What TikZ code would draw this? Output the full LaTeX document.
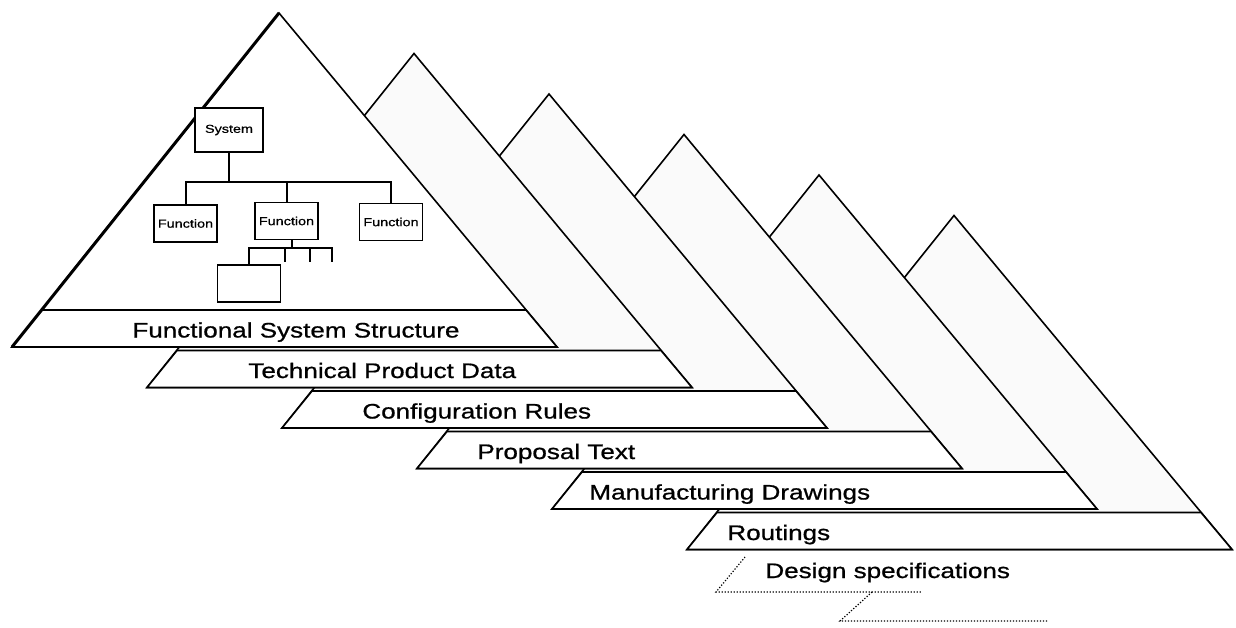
\documentclass[tikz,border=0pt]{standalone}
\usepackage{fontspec}
\setmainfont[FakeStretch=1.24, FakeBold=0.8]{Liberation Sans}

\tikzset{
  layer/.style={fill=black!2, line width=0.8pt, line join=miter},
  strip/.style={fill=white, line width=0.8pt},
  lbl/.style={font=\fontsize{10.5}{12}\selectfont, inner sep=0pt, anchor=base west},
  box/.style={draw, line width=0.9pt, fill=white, inner sep=0pt,
    minimum width=31.5pt, minimum height=18.5pt, font=\fontsize{5.8}{7}\selectfont},
  ghost/.style={line width=0.6pt, dash pattern=on 0.6pt off 0.9pt}
}

\begin{document}
\begin{tikzpicture}[x=0.5pt, y=-0.5pt]
\useasboundingbox (0,0) rectangle (1236,627);

% layers behind, drawn back to front
\foreach \k/\lbl/\off in {5/Routings/40, 4/Manufacturing Drawings/37,
    3/Proposal Text/60, 2/Configuration Rules/80, 1/Technical Product Data/101}{
  \begin{scope}[shift={(135*\k,40.5*\k)}]
    \filldraw[layer] (279,13) -- (12,347) -- (557,347) -- cycle;
    \filldraw[strip] (42,310) -- (12,347) -- (557,347) -- (526,310) -- cycle;
    \node[lbl] (lbl\k) at (12+\off,337.5) {\lbl};
  \end{scope}
}

% front layer
\filldraw[layer, fill=white] (279,13) -- (12,347) -- (557,347) -- cycle;
\filldraw[strip] (42,310) -- (12,347) -- (557,347) -- (526,310) -- cycle;
\draw[line width=1.5pt] (279,13) -- (12,347);
\node[lbl] (lbl0) at (132,337.5) {Functional System Structure};

% system tree
\node[box, minimum width=34pt, minimum height=22pt] (sys) at (229,130) {System};
\node[box] (fn1) at (185.5,223.5) {Function};
\node[box] (fn2) at (286.5,221) {Function};
\node[box] (fn3) at (391,222) {Function};
\node[box] (sub) at (249,283.5) {};

\coordinate (bus) at (229,182);
\draw[line width=1pt] (sys.south) -- (bus);
\draw[line width=1pt] (fn1.north) |- (fn3.north |- bus) -- (fn3.north);
\draw[line width=1pt] (fn2.north) -- (fn2.north |- bus);

\coordinate (sbus) at (292,248);
\draw[line width=1pt] (sbus |- fn2.south) -- (sbus);
\foreach \x [count=\n] in {285,310,332}
  \coordinate (stub\n) at (\x,262);
\draw[line width=1pt] (sub.north) |- (stub3 |- sbus) -- (stub3);
\draw[line width=1pt] (stub1 |- sbus) -- (stub1);
\draw[line width=1pt] (stub2 |- sbus) -- (stub2);

% next layers, only sketched
\node[lbl] (spec) at (765,578) {Design specifications};
\draw[ghost] (745,557) -- (716,592) -- (922,592);
\draw[ghost] (872,592) -- (840,621) -- (1047,621);

\end{tikzpicture}
\end{document}
